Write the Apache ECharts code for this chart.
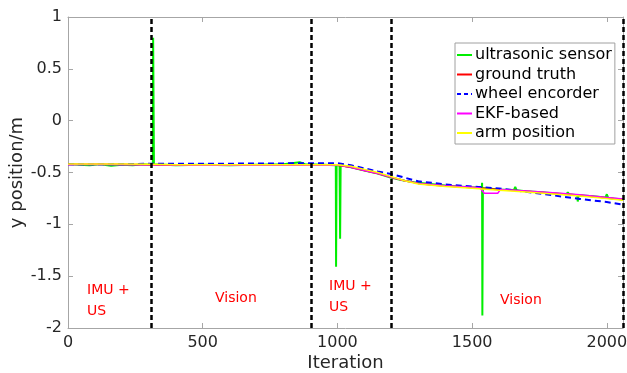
<!DOCTYPE html>
<html>
<head>
<meta charset="utf-8">
<script src="https://cdn.jsdelivr.net/npm/echarts@6/dist/echarts.min.js"></script>
<style>html,body{margin:0;padding:0;background:#fff}#c{width:627px;height:373px}</style>
</head>
<body>
<div id="c"></div>
<script>
// ---- data ----
const xTicks = [0, 500, 1000, 1500, 2000];
const phaseLines = [309, 903, 1200, 2060];

const ultraX = [0, 40, 80, 120, 160, 200, 240, 280, 305, 315, 316, 318, 319, 400, 500, 600, 700, 800, 860, 880, 950, 994, 995, 997, 1008, 1010, 1012, 1050, 1100, 1133, 1150, 1200, 1250, 1300, 1400, 1500, 1536, 1537, 1538, 1540, 1600, 1655, 1660, 1665, 1700, 1760, 1800, 1850, 1855, 1860, 1890, 1892, 1895, 1950, 1995, 2000, 2005, 2060];
const ultraY = [-0.42, -0.425, -0.43, -0.42, -0.435, -0.425, -0.43, -0.42, -0.425, -0.42, 0.8, 0.8, -0.42, -0.43, -0.425, -0.43, -0.425, -0.42, -0.40, -0.42, -0.425, -0.43, -1.41, -0.43, -0.43, -1.14, -0.43, -0.45, -0.48, -0.50, -0.51, -0.55, -0.58, -0.60, -0.625, -0.645, -0.64, -0.60, -1.88, -0.65, -0.665, -0.67, -0.64, -0.67, -0.68, -0.69, -0.70, -0.71, -0.69, -0.71, -0.72, -0.78, -0.72, -0.73, -0.74, -0.71, -0.745, -0.76];

const truthX = [0, 100, 200, 309, 400, 500, 600, 700, 800, 900, 950, 1000, 1050, 1100, 1150, 1200, 1250, 1300, 1350, 1400, 1500, 1600, 1700, 1800, 1900, 2000, 2060];
const truthY = [-0.42, -0.42, -0.42, -0.425, -0.43, -0.43, -0.43, -0.43, -0.43, -0.43, -0.43, -0.43, -0.45, -0.48, -0.51, -0.545, -0.58, -0.605, -0.62, -0.63, -0.645, -0.665, -0.68, -0.70, -0.72, -0.745, -0.76];

const wheelX = [0, 100, 200, 309, 400, 500, 600, 700, 800, 900, 1000, 1050, 1100, 1150, 1200, 1250, 1300, 1350, 1400, 1500, 1600, 1700, 1800, 1900, 2000, 2060];
const wheelY = [-0.42, -0.42, -0.42, -0.415, -0.415, -0.415, -0.415, -0.413, -0.412, -0.41, -0.41, -0.43, -0.46, -0.49, -0.515, -0.55, -0.585, -0.60, -0.615, -0.635, -0.655, -0.685, -0.72, -0.755, -0.785, -0.81];

const ekfX = [0, 100, 200, 309, 400, 500, 600, 700, 800, 900, 1000, 1050, 1100, 1150, 1200, 1250, 1300, 1400, 1500, 1530, 1545, 1595, 1605, 1700, 1800, 1900, 2000, 2060];
const ekfY = [-0.425, -0.42, -0.425, -0.425, -0.428, -0.43, -0.428, -0.43, -0.428, -0.43, -0.428, -0.45, -0.48, -0.51, -0.545, -0.58, -0.605, -0.628, -0.643, -0.65, -0.70, -0.70, -0.665, -0.678, -0.695, -0.715, -0.74, -0.755];

const armX = [0, 100, 200, 309, 400, 500, 600, 700, 800, 900, 1000, 1050, 1100, 1150, 1200, 1250, 1300, 1400, 1500, 1600, 1700, 1800, 1900, 2000, 2060];
const armY = [-0.418, -0.418, -0.418, -0.42, -0.425, -0.425, -0.425, -0.425, -0.425, -0.425, -0.425, -0.44, -0.47, -0.50, -0.54, -0.58, -0.61, -0.635, -0.652, -0.672, -0.688, -0.707, -0.727, -0.752, -0.767];

const seriesNames = ['ultrasonic sensor', 'ground truth', 'wheel encorder', 'EKF-based', 'arm position'];

function pairs(xs, ys) { return xs.map((x, i) => [x, ys[i]]); }

const FONT = 'DejaVu Sans';
const axisGray = '#a6a6a6';
const SOLID_ICON = 'path://M0,0 H15 V2 H0 Z';
const DASH_ICON = 'path://M0,0 H4 V2 H0 Z M7,0 H11 V2 H7 Z M14,0 H15 V2 H14 Z';
const chart = echarts.init(document.getElementById('c'), null, {renderer: 'canvas'});

const baseX = {
  type: 'value', min: 0, max: 2060,
  axisLine: {show: true, onZero: false, lineStyle: {color: axisGray, width: 1}},
  axisTick: {show: true, inside: true, length: 5, lineStyle: {color: axisGray}, customValues: xTicks},
  splitLine: {show: false}
};
const baseY = {
  type: 'value', min: -2, max: 1, interval: 0.5,
  axisLine: {show: true, onZero: false, lineStyle: {color: axisGray, width: 1}},
  axisTick: {show: true, inside: true, length: 5, lineStyle: {color: axisGray}},
  splitLine: {show: false}
};

const lineSeries = (name, xs, ys, color, width, type) => ({
  name, type: 'line', data: pairs(xs, ys), symbol: 'none', showSymbol: false,
  lineStyle: {color, width, type: type || 'solid'}, itemStyle: {color},
  animation: false, silent: true
});

const colors = ['#00ee00', '#ff0000', '#0000ff', '#ff00ff', '#ffff00'];

chart.setOption({
  animation: false,
  grid: {left: 68, right: 4, top: 17, bottom: 45, containLabel: false, outerBoundsMode: 'none'},
  xAxis: [
    Object.assign({}, baseX, {
      position: 'bottom',
      name: 'Iteration', nameLocation: 'middle', nameGap: 26, nameMoveOverlap: false,
      nameTextStyle: {fontFamily: FONT, fontSize: 18, color: '#262626'},
      axisLabel: {show: true, fontFamily: FONT, fontSize: 16, color: '#262626', margin: 7, customValues: xTicks, formatter: v => String(v)}
    }),
    Object.assign({}, baseX, {position: 'top', axisLabel: {show: false}})
  ],
  yAxis: [
    Object.assign({}, baseY, {
      position: 'left',
      name: 'y position/m', nameLocation: 'middle', nameGap: 42, nameMoveOverlap: false,
      nameTextStyle: {fontFamily: FONT, fontSize: 18, color: '#262626'},
      axisLabel: {show: true, fontFamily: FONT, fontSize: 16, color: '#262626', margin: 6, formatter: v => String(v)}
    }),
    Object.assign({}, baseY, {position: 'right', axisLabel: {show: false}})
  ],
  legend: {
    show: true, orient: 'vertical', left: 455, top: 43,
    data: seriesNames.map((n, i) => ({name: n, icon: i === 2 ? DASH_ICON : SOLID_ICON, itemStyle: {color: colors[i]}})),
    backgroundColor: '#fff', borderColor: '#a0a0a0', borderWidth: 1,
    padding: [4, 3, 3, 2], itemWidth: 15, itemHeight: 2, itemGap: 3.5,
    textStyle: {fontFamily: FONT, fontSize: 16, color: '#000', padding: [0, 0, 0, -2]},
    selectedMode: false
  },
  series: [
    lineSeries(seriesNames[0], ultraX, ultraY, colors[0], 2),
    lineSeries(seriesNames[1], truthX, truthY, colors[1], 1.5),
    lineSeries(seriesNames[2], wheelX, wheelY, colors[2], 2, [6, 4]),
    lineSeries(seriesNames[3], ekfX, ekfY, colors[3], 1.5),
    lineSeries(seriesNames[4], armX, armY, colors[4], 1.5),
    {
      name: 'phases', type: 'line', data: [], silent: true, z: 5,
      markLine: {
        silent: true, symbol: ['none', 'none'], label: {show: false},
        lineStyle: {color: '#000', width: 2.5, type: [5, 3]},
        data: phaseLines.map(v => ({xAxis: v}))
      }
    }
  ],
  graphic: [
    {type: 'text', left: 87, top: 280, style: {text: 'IMU +\nUS', fill: '#ff0000', font: '14px "DejaVu Sans"', lineHeight: 21}},
    {type: 'text', left: 215, top: 291, style: {text: 'Vision', fill: '#ff0000', font: '14px "DejaVu Sans"'}},
    {type: 'text', left: 329, top: 276, style: {text: 'IMU +\nUS', fill: '#ff0000', font: '14px "DejaVu Sans"', lineHeight: 21}},
    {type: 'text', left: 500, top: 293, style: {text: 'Vision', fill: '#ff0000', font: '14px "DejaVu Sans"'}}
  ]
});
</script>
</body>
</html>
